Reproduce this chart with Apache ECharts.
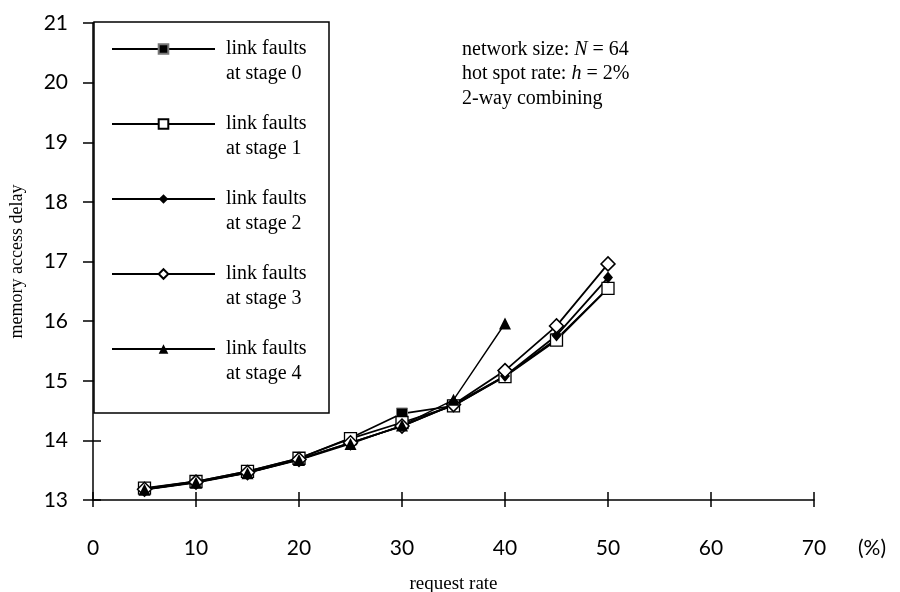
<!DOCTYPE html>
<html>
<head>
<meta charset="utf-8">
<script src="https://cdn.jsdelivr.net/npm/echarts@6/dist/echarts.min.js"></script>
<style>
  html, body { margin: 0; padding: 0; background: #fff; }
  #chart { width: 900px; height: 592px; }
</style>
</head>
<body>
<div id="chart"></div>
<script>
// request rate (%)
const requestRate = [5, 10, 15, 20, 25, 30, 35, 40, 45, 50];

// memory access delay, one list per faulty stage
const stage0 = [13.19, 13.31, 13.48, 13.70, 14.04, 14.45, 14.58, 15.08, 15.70, 16.55];
const stage1 = [13.20, 13.31, 13.48, 13.70, 14.03, 14.30, 14.58, 15.07, 15.68, 16.55];
const stage2 = [13.18, 13.30, 13.46, 13.68, 13.96, 14.24, 14.60, 15.08, 15.76, 16.73];
const stage3 = [13.18, 13.30, 13.46, 13.68, 13.96, 14.24, 14.60, 15.17, 15.92, 16.96];
const stage4 = [13.17, 13.29, 13.45, 13.67, 13.94, 14.25, 14.68, 15.96];

const stageNames = ['at stage 0', 'at stage 1', 'at stage 2', 'at stage 3', 'at stage 4'];

const serif = 'Liberation Serif';
const sans = 'Lato';

function pairs(values) {
  return values.map((v, i) => [requestRate[i], v]);
}

function lineSeries(name, values, symbol, size, itemStyle, width) {
  return {
    name: name,
    type: 'line',
    data: pairs(values),
    symbol: symbol,
    symbolSize: size,
    showAllSymbol: true,
    lineStyle: { color: '#000', width: width || 1.8 },
    itemStyle: itemStyle,
    emphasis: { disabled: true }
  };
}

const chart = echarts.init(document.getElementById('chart'));

chart.setOption({
  animation: false,
  backgroundColor: '#fff',
  grid: { left: 93, right: 86, top: 23, bottom: 92, containLabel: false, outerBoundsMode: 'none' },
  title: {
    left: 462,
    top: 37,
    padding: 0,
    text: 'network size: {i|N} = 64\nhot spot rate: {i|h} = 2%\n2-way combining',
    textStyle: {
      fontFamily: serif, fontSize: 20, fontWeight: 'normal', color: '#000', lineHeight: 24.5,
      rich: { i: { fontFamily: serif, fontSize: 20, fontStyle: 'italic', color: '#000', lineHeight: 24.5 } }
    }
  },
  legend: {
    orient: 'vertical',
    left: 111,
    top: 11.5,
    padding: 0,
    z: 10,
    itemWidth: 103,
    itemHeight: 12,
    itemGap: 0,
    selectedMode: false,
    data: stageNames,
    // leading blank line puts "link faults" level with the marker
    formatter: name => '\nlink faults\n' + name,
    textStyle: {
      fontFamily: serif, fontSize: 20, lineHeight: 25, color: '#000',
      padding: [0, 0, 0, 6]
    }
  },
  graphic: [
    {
      type: 'rect', z: 5,
      shape: { x: 94, y: 22, width: 235, height: 391 },
      style: { fill: '#fff', stroke: '#000', lineWidth: 1.5 }
    },
    {
      type: 'text', left: 858, top: 538,
      style: { text: '(%)', font: '21px Lato', fill: '#000' }
    }
  ],
  xAxis: [
    {
      type: 'value', min: 0, max: 70, interval: 10,
      name: 'request rate', nameLocation: 'middle', nameGap: 75,
      nameTextStyle: { fontFamily: serif, fontSize: 19, color: '#000' },
      axisLine: { lineStyle: { color: '#000', width: 1.5 } },
      axisTick: { length: 7, lineStyle: { color: '#000', width: 1.5 } },
      axisLabel: { margin: 38, fontFamily: sans, fontSize: 21, color: '#000' },
      splitLine: { show: false }
    },
    {
      type: 'value', min: 0, max: 70, interval: 10, position: 'bottom',
      axisLine: { show: false },
      axisTick: { inside: true, length: 8, lineStyle: { color: '#000', width: 1.5 } },
      axisLabel: { show: false },
      splitLine: { show: false }
    }
  ],
  yAxis: [
    {
      type: 'value', min: 13, max: 21, interval: 1,
      name: 'memory access delay', nameLocation: 'middle', nameGap: 67,
      nameTextStyle: { fontFamily: serif, fontSize: 18, color: '#000' },
      axisLine: { show: true, lineStyle: { color: '#000', width: 1.5 } },
      axisTick: { show: true, length: 10, lineStyle: { color: '#000', width: 1.5 } },
      axisLabel: { margin: 25, fontFamily: sans, fontSize: 21, color: '#000' },
      splitLine: { show: false }
    },
    {
      type: 'value', min: 13, max: 21, interval: 1, position: 'left',
      axisLine: { show: false },
      axisTick: { show: true, inside: true, length: 8, lineStyle: { color: '#000', width: 1.5 } },
      axisLabel: { show: false },
      splitLine: { show: false }
    }
  ],
  series: [
    lineSeries(stageNames[0], stage0, 'rect', 11, { color: '#000', borderColor: '#777', borderWidth: 1 }),
    lineSeries(stageNames[1], stage1, 'rect', 12, { color: '#fff', borderColor: '#000', borderWidth: 1.3 }),
    lineSeries(stageNames[2], stage2, 'diamond', [10, 12], { color: '#000' }),
    lineSeries(stageNames[3], stage3, 'diamond', 14, { color: '#fff', borderColor: '#000', borderWidth: 1.5 }),
    lineSeries(stageNames[4], stage4, 'triangle', 12, { color: '#000' }, 1.4)
  ]
});
</script>
</body>
</html>
